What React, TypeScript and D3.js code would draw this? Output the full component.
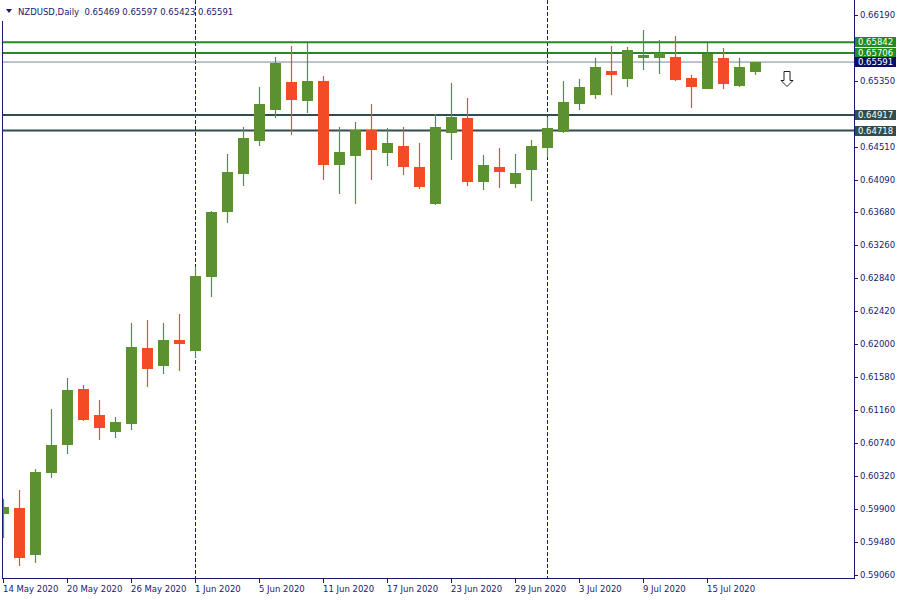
import React from "react";
import * as d3 from "d3";

const dates = [
  "14 May","15 May","18 May","19 May","20 May","21 May","22 May","25 May","26 May","27 May","28 May","29 May",
  "1 Jun","2 Jun","3 Jun","4 Jun","5 Jun","8 Jun","9 Jun","10 Jun","11 Jun","12 Jun","15 Jun","16 Jun","17 Jun",
  "18 Jun","19 Jun","22 Jun","23 Jun","24 Jun","25 Jun","26 Jun","29 Jun","30 Jun",
  "1 Jul","2 Jul","3 Jul","6 Jul","7 Jul","8 Jul","9 Jul","10 Jul","13 Jul","14 Jul","15 Jul","16 Jul","17 Jul","20 Jul",
];
const opens = [
  0.5984,0.59913,0.59319,0.60363,0.60719,0.61428,0.61097,0.60885,0.60986,0.6195,0.61725,0.62052,
  0.61912,0.62854,0.63682,0.64166,0.6459,0.6498,0.65337,0.65095,0.6535,0.6428,0.64395,0.64726,0.64433,
  0.64522,0.64255,0.63784,0.64688,0.64879,0.64064,0.64255,0.64038,0.64217,
  0.64497,0.647,0.65057,0.65171,0.65477,0.65375,0.65643,0.65643,0.65655,0.65388,0.65248,0.65643,0.65286,0.65469,
];
const highs = [
  0.60028,0.60142,0.6041,0.61174,0.61568,0.61479,0.61288,0.61072,0.62269,0.62307,0.62269,0.62383,
  0.62985,0.63695,0.6442,0.64764,0.65273,0.65655,0.65795,0.6583,0.65413,0.64764,0.64828,0.65057,0.64751,
  0.64764,0.6456,0.6493,0.65324,0.65133,0.64408,0.64497,0.6442,0.64599,
  0.64891,0.6535,0.65375,0.65643,0.65795,0.65783,0.65999,0.65872,0.65923,0.65426,0.65834,0.6577,0.65643,0.65597,
];
const lows = [
  0.59535,0.59179,0.59217,0.60299,0.60605,0.61021,0.60783,0.60808,0.6091,0.61458,0.61619,0.61657,
  0.61819,0.626,0.63546,0.64017,0.64526,0.64882,0.64666,0.64938,0.64089,0.63911,0.63784,0.64089,0.64268,
  0.64153,0.63975,0.63771,0.64344,0.64013,0.63962,0.63987,0.63987,0.63822,
  0.64382,0.64688,0.6498,0.65121,0.65171,0.65273,0.6549,0.65439,0.6535,0.65006,0.65248,0.65248,0.65273,0.65423,
];
const closes = [
  0.59926,0.5928,0.60372,0.60715,0.61416,0.61037,0.60936,0.61008,0.61963,0.61683,0.62052,0.62001,
  0.62867,0.63682,0.64191,0.64624,0.65057,0.65583,0.65108,0.6535,0.6428,0.64446,0.64726,0.64471,0.6456,
  0.64255,0.64,0.64764,0.64891,0.64064,0.6428,0.64191,0.64178,0.64522,
  0.64751,0.65082,0.65273,0.65528,0.65426,0.65744,0.65681,0.65706,0.65362,0.65273,0.65694,0.65312,0.65528,0.65591,
];

const priceTicks = [
  0.6619,0.6535,0.6451,0.6409,0.6368,0.6326,0.6284,0.6242,0.62,0.6158,0.6116,0.6074,0.6032,0.599,0.5948,0.5906,
];
const dateTicks = ["14 May","20 May","26 May","1 Jun","5 Jun","11 Jun","17 Jun","23 Jun","29 Jun","3 Jul","9 Jul","15 Jul"];
const separators = ["1 Jun","1 Jul"];
const greenLevels = [0.65842, 0.65706];
const slateLevels = [0.64917, 0.64718];
const bidLevel = 0.65591;
const arrowPrice = 0.6548;
const headerText = "NZDUSD,Daily  0.65469 0.65597 0.65423 0.65591";

const NAVY = "#191970";
const UP = "#5b9131";
const DOWN = "#f24b25";
const FONT = "'DejaVu Sans', Verdana, sans-serif";

export default function App() {
  const W = 900, H = 600;
  const left = 2, right = 854, bottom = 579;
  const y = d3.scaleLinear().domain([0.5906, 0.6619]).range([575, 15]);
  const x = d3.scalePoint<string>().domain(dates).range([3.5, 755.5]);
  const fmt = d3.format(".5f");
  const half = 5.5;
  const lastX = x(dates[dates.length - 1])!;
  const ax = lastX + 31;
  const ay = Math.round(y(arrowPrice));

  return (
    <svg width={W} height={H} style={{ position: "absolute", left: 0, top: 0, background: "#fff" }}>
      <defs>
        <clipPath id="plot">
          <rect x={left + 1} y={0} width={right - left - 1} height={bottom} />
        </clipPath>
      </defs>
      <rect x={0} y={0} width={W} height={H} fill="#fff" />

      {separators.map((d) => (
        <line key={d} x1={x(d)} x2={x(d)} y1={0} y2={bottom} stroke={NAVY} strokeWidth={1} strokeDasharray="4,2" />
      ))}

      <line x1={left} x2={right} y1={y(bidLevel)} y2={y(bidLevel)} stroke="#778899" strokeWidth={1} />
      {greenLevels.map((v) => (
        <line key={v} x1={left} x2={right} y1={y(v)} y2={y(v)} stroke="#228b22" strokeWidth={2} />
      ))}
      {slateLevels.map((v) => (
        <line key={v} x1={left} x2={right} y1={y(v)} y2={y(v)} stroke="#2f4f4f" strokeWidth={2} />
      ))}

      <g clipPath="url(#plot)">
        {dates.map((d, i) => {
          const o = opens[i], c = closes[i], h = highs[i], l = lows[i];
          const col = c >= o ? UP : DOWN;
          const cx = x(d)!;
          const top = Math.round(y(Math.max(o, c)));
          const bot = Math.round(y(Math.min(o, c)));
          return (
            <g key={d}>
              <line x1={cx} x2={cx} y1={Math.round(y(h))} y2={Math.round(y(l))} stroke={col} strokeWidth={1.2} />
              <rect x={cx - half} y={top} width={half * 2} height={Math.max(1, bot - top)} fill={col} />
            </g>
          );
        })}
      </g>

      <path
        d={`M${ax - 3},${ay} h6 v9 h3 l-6,6 l-6,-6 h3 z`}
        fill="#fff"
        stroke="#222"
        strokeWidth={1}
        transform="translate(0.5,0.5)"
      />

      <line x1={left + 0.5} x2={left + 0.5} y1={21} y2={bottom} stroke={NAVY} />
      <line x1={left} x2={right + 1} y1={bottom - 0.5} y2={bottom - 0.5} stroke={NAVY} />
      <line x1={right + 0.5} x2={right + 0.5} y1={0} y2={bottom} stroke={NAVY} />

      {priceTicks.map((t) => (
        <g key={t}>
          <line x1={right} x2={right + 4} y1={Math.round(y(t)) + 0.5} y2={Math.round(y(t)) + 0.5} stroke={NAVY} />
          <text x={860} y={y(t)} dy="0.35em" fontFamily={FONT} fontSize={8.5} fill={NAVY}>
            {fmt(t)}
          </text>
        </g>
      ))}

      {dateTicks.map((d) => (
        <g key={d}>
          <line x1={x(d)} x2={x(d)} y1={bottom} y2={bottom + 4} stroke={NAVY} />
          <text x={x(d)! - 0.5} y={592} fontFamily={FONT} fontSize={8.5} fill={NAVY}>
            {d + " 2020"}
          </text>
        </g>
      ))}

      {[
        ...greenLevels.map((v) => ({ v, bg: "#228b22" })),
        { v: bidLevel, bg: "#0c0c6c" },
        ...slateLevels.map((v) => ({ v, bg: "#2f4f4f" })),
      ].map(({ v, bg }) => (
        <g key={v}>
          <rect x={855} y={Math.round(y(v)) - 5} width={41} height={10} fill={bg} />
          <text x={858} y={y(v)} dy="0.35em" fontFamily={FONT} fontSize={8.5} fill="#fff">
            {fmt(v)}
          </text>
        </g>
      ))}

      <path d="M6,9 h6 l-3,4 z" fill={NAVY} />
      <text x={18} y={15} fontFamily={FONT} fontSize={8.5} fill={NAVY} style={{ whiteSpace: "pre" }}>
        {headerText}
      </text>
    </svg>
  );
}
